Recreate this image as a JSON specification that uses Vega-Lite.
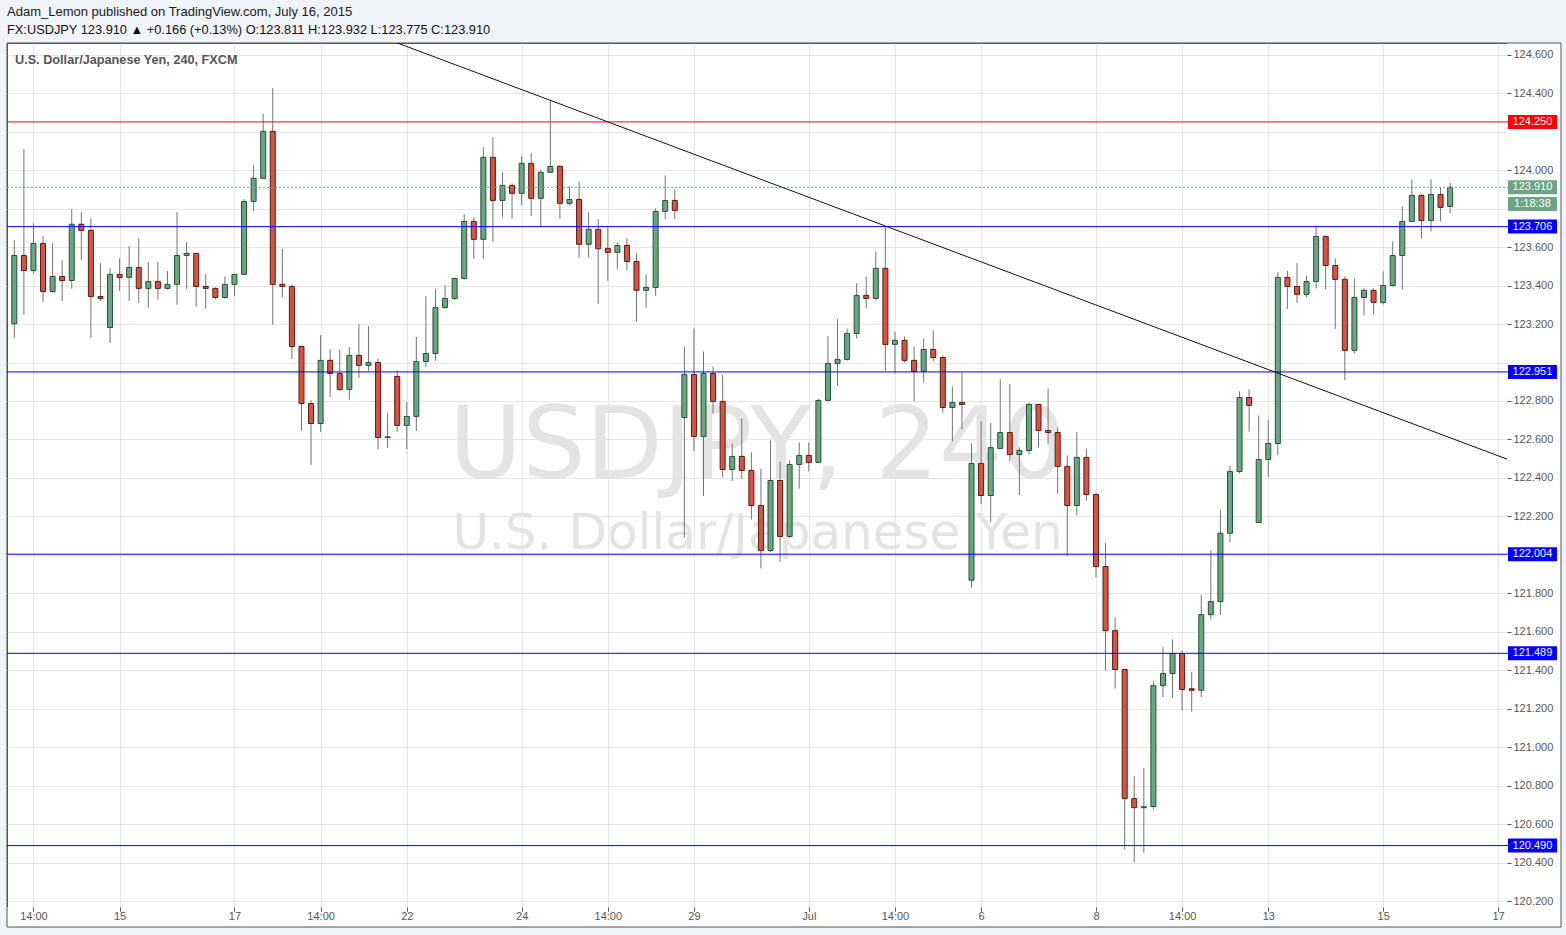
{
  "$schema": "https://vega.github.io/schema/vega-lite/v6.json",
  "width": 1500,
  "height": 864,
  "autosize": {"type": "none"},
  "padding": {"left": 7, "top": 43, "right": 59, "bottom": 28},
  "background": "#f0f3f7",
  "title": {
    "text": "Adam_Lemon published on TradingView.com, July 16, 2015",
    "subtitle": "FX:USDJPY 123.910 ▲ +0.166 (+0.13%) O:123.811 H:123.932 L:123.775 C:123.910",
    "anchor": "start",
    "frame": "group",
    "font": "Liberation Sans",
    "fontSize": 13,
    "fontWeight": "normal",
    "color": "#1a1a1a",
    "subtitleFont": "Liberation Sans",
    "subtitleFontSize": 12.8,
    "subtitleColor": "#111111",
    "subtitlePadding": 5,
    "offset": 6
  },
  "config": {
    "view": {"stroke": "#555555", "strokeWidth": 1, "fill": "white"},
    "text": {"font": "Liberation Sans"}
  },
  "resolve": {"axis": {"x": "independent", "y": "independent"}},
  "datasets": {
    "candles": [
      {"n": -1, "o": 123.01, "h": 123.22, "l": 122.98, "c": 123.2},
      {"n": 0, "o": 123.201, "h": 123.636, "l": 123.128, "c": 123.556},
      {"n": 1, "o": 123.556, "h": 124.109, "l": 123.248, "c": 123.478},
      {"n": 2, "o": 123.478, "h": 123.723, "l": 123.461, "c": 123.619},
      {"n": 3, "o": 123.619, "h": 123.657, "l": 123.315, "c": 123.369},
      {"n": 4, "o": 123.369, "h": 123.62, "l": 123.36, "c": 123.447},
      {"n": 5, "o": 123.447, "h": 123.532, "l": 123.32, "c": 123.426},
      {"n": 6, "o": 123.426, "h": 123.797, "l": 123.383, "c": 123.718},
      {"n": 7, "o": 123.718, "h": 123.781, "l": 123.532, "c": 123.686},
      {"n": 8, "o": 123.686, "h": 123.75, "l": 123.128, "c": 123.343},
      {"n": 9, "o": 123.343, "h": 123.516, "l": 123.32, "c": 123.333},
      {"n": 10, "o": 123.182, "h": 123.49, "l": 123.102, "c": 123.458},
      {"n": 11, "o": 123.458, "h": 123.542, "l": 123.372, "c": 123.442},
      {"n": 12, "o": 123.442, "h": 123.605, "l": 123.32, "c": 123.494},
      {"n": 13, "o": 123.494, "h": 123.646, "l": 123.31, "c": 123.385},
      {"n": 14, "o": 123.385, "h": 123.522, "l": 123.284, "c": 123.421},
      {"n": 15, "o": 123.421, "h": 123.522, "l": 123.326, "c": 123.385},
      {"n": 16, "o": 123.385, "h": 123.475, "l": 123.378, "c": 123.406},
      {"n": 17, "o": 123.406, "h": 123.781, "l": 123.3, "c": 123.556},
      {"n": 18, "o": 123.556, "h": 123.626, "l": 123.383, "c": 123.567},
      {"n": 19, "o": 123.567, "h": 123.57, "l": 123.289, "c": 123.395},
      {"n": 20, "o": 123.395, "h": 123.459, "l": 123.279, "c": 123.385},
      {"n": 21, "o": 123.385, "h": 123.39, "l": 123.326, "c": 123.338},
      {"n": 22, "o": 123.338, "h": 123.447, "l": 123.331, "c": 123.406},
      {"n": 23, "o": 123.406, "h": 123.46, "l": 123.346, "c": 123.458},
      {"n": 24, "o": 123.458, "h": 123.849, "l": 123.455, "c": 123.837},
      {"n": 25, "o": 123.837, "h": 124.024, "l": 123.788, "c": 123.957},
      {"n": 26, "o": 123.957, "h": 124.291, "l": 123.955, "c": 124.201},
      {"n": 27, "o": 124.201, "h": 124.426, "l": 123.196, "c": 123.406},
      {"n": 28, "o": 123.406, "h": 123.589, "l": 123.336, "c": 123.395},
      {"n": 29, "o": 123.395, "h": 123.406, "l": 123.019, "c": 123.083},
      {"n": 30, "o": 123.083, "h": 123.088, "l": 122.645, "c": 122.787},
      {"n": 31, "o": 122.787, "h": 122.804, "l": 122.468, "c": 122.683},
      {"n": 32, "o": 122.683, "h": 123.142, "l": 122.64, "c": 123.011},
      {"n": 33, "o": 123.011, "h": 123.069, "l": 122.821, "c": 122.943},
      {"n": 34, "o": 122.943, "h": 123.069, "l": 122.853, "c": 122.86},
      {"n": 35, "o": 122.86, "h": 123.08, "l": 122.806, "c": 123.037},
      {"n": 36, "o": 123.037, "h": 123.199, "l": 122.92, "c": 122.985},
      {"n": 37, "o": 122.985, "h": 123.189, "l": 122.957, "c": 123.0},
      {"n": 38, "o": 123.0, "h": 123.021, "l": 122.548, "c": 122.61},
      {"n": 39, "o": 122.61, "h": 122.737, "l": 122.556, "c": 122.614},
      {"n": 40, "o": 122.928, "h": 122.959, "l": 122.64, "c": 122.673},
      {"n": 41, "o": 122.673, "h": 122.794, "l": 122.548, "c": 122.72},
      {"n": 42, "o": 122.72, "h": 123.132, "l": 122.645, "c": 123.005},
      {"n": 43, "o": 123.005, "h": 123.345, "l": 122.977, "c": 123.047},
      {"n": 44, "o": 123.047, "h": 123.381, "l": 123.009, "c": 123.286},
      {"n": 45, "o": 123.286, "h": 123.402, "l": 123.279, "c": 123.333},
      {"n": 46, "o": 123.333, "h": 123.44, "l": 123.324, "c": 123.437},
      {"n": 47, "o": 123.437, "h": 123.771, "l": 123.43, "c": 123.733},
      {"n": 48, "o": 123.733, "h": 123.755, "l": 123.539, "c": 123.64},
      {"n": 49, "o": 123.64, "h": 124.118, "l": 123.539, "c": 124.066},
      {"n": 50, "o": 124.066, "h": 124.17, "l": 123.627, "c": 123.842},
      {"n": 51, "o": 123.842, "h": 123.988, "l": 123.754, "c": 123.92},
      {"n": 52, "o": 123.92, "h": 123.931, "l": 123.747, "c": 123.879},
      {"n": 53, "o": 123.879, "h": 124.071, "l": 123.819, "c": 124.035},
      {"n": 54, "o": 124.035, "h": 124.087, "l": 123.762, "c": 123.853},
      {"n": 55, "o": 123.853, "h": 123.998, "l": 123.703, "c": 123.988},
      {"n": 56, "o": 123.988, "h": 124.362, "l": 123.985, "c": 124.019},
      {"n": 57, "o": 124.019, "h": 124.025, "l": 123.747, "c": 123.827},
      {"n": 58, "o": 123.827, "h": 123.915, "l": 123.814, "c": 123.847},
      {"n": 59, "o": 123.847, "h": 123.941, "l": 123.544, "c": 123.614},
      {"n": 60, "o": 123.614, "h": 123.78, "l": 123.544, "c": 123.692},
      {"n": 61, "o": 123.692, "h": 123.745, "l": 123.305, "c": 123.591},
      {"n": 62, "o": 123.593, "h": 123.702, "l": 123.424, "c": 123.572},
      {"n": 63, "o": 123.572, "h": 123.624, "l": 123.484, "c": 123.608},
      {"n": 64, "o": 123.608, "h": 123.645, "l": 123.478, "c": 123.525},
      {"n": 65, "o": 123.525, "h": 123.567, "l": 123.211, "c": 123.375},
      {"n": 66, "o": 123.375, "h": 123.458, "l": 123.284, "c": 123.39},
      {"n": 67, "o": 123.39, "h": 123.801, "l": 123.346, "c": 123.785},
      {"n": 68, "o": 123.785, "h": 123.972, "l": 123.744, "c": 123.842},
      {"n": 69, "o": 123.842, "h": 123.899, "l": 123.744, "c": 123.79},
      {"n": 70, "o": 122.714, "h": 123.083, "l": 122.089, "c": 122.938},
      {"n": 71, "o": 122.938, "h": 123.177, "l": 122.539, "c": 122.616},
      {"n": 72, "o": 122.616, "h": 123.057, "l": 122.307, "c": 122.943},
      {"n": 73, "o": 122.943, "h": 122.979, "l": 122.733, "c": 122.798},
      {"n": 74, "o": 122.798, "h": 122.938, "l": 122.406, "c": 122.444},
      {"n": 75, "o": 122.444, "h": 122.579, "l": 122.385, "c": 122.512},
      {"n": 76, "o": 122.512, "h": 122.709, "l": 122.395, "c": 122.439},
      {"n": 77, "o": 122.439, "h": 122.533, "l": 122.184, "c": 122.257},
      {"n": 78, "o": 122.257, "h": 122.449, "l": 121.93, "c": 122.023},
      {"n": 79, "o": 122.023, "h": 122.595, "l": 122.016, "c": 122.387},
      {"n": 80, "o": 122.387, "h": 122.486, "l": 121.964, "c": 122.096},
      {"n": 81, "o": 122.096, "h": 122.491, "l": 122.086, "c": 122.47},
      {"n": 82, "o": 122.47, "h": 122.585, "l": 122.345, "c": 122.517},
      {"n": 83, "o": 122.517, "h": 122.585, "l": 122.434, "c": 122.481},
      {"n": 84, "o": 122.481, "h": 122.81, "l": 122.478, "c": 122.803},
      {"n": 85, "o": 122.803, "h": 123.137, "l": 122.798, "c": 122.995},
      {"n": 86, "o": 122.995, "h": 123.225, "l": 122.879, "c": 123.016},
      {"n": 87, "o": 123.016, "h": 123.177, "l": 123.01, "c": 123.151},
      {"n": 88, "o": 123.151, "h": 123.411, "l": 123.125, "c": 123.349},
      {"n": 89, "o": 123.349, "h": 123.447, "l": 123.281, "c": 123.333},
      {"n": 90, "o": 123.333, "h": 123.577, "l": 123.323, "c": 123.489},
      {"n": 91, "o": 123.489, "h": 123.707, "l": 122.957, "c": 123.094},
      {"n": 92, "o": 123.094, "h": 123.161, "l": 122.943, "c": 123.115},
      {"n": 93, "o": 123.115, "h": 123.135, "l": 123.0, "c": 123.011},
      {"n": 94, "o": 123.011, "h": 123.083, "l": 122.798, "c": 122.954},
      {"n": 95, "o": 122.954, "h": 123.125, "l": 122.896, "c": 123.068},
      {"n": 96, "o": 123.068, "h": 123.167, "l": 123.005, "c": 123.026},
      {"n": 97, "o": 123.026, "h": 123.037, "l": 122.74, "c": 122.766},
      {"n": 98, "o": 122.766, "h": 122.876, "l": 122.59, "c": 122.792},
      {"n": 99, "o": 122.792, "h": 122.948, "l": 122.652, "c": 122.782},
      {"n": 100, "o": 121.869, "h": 122.579, "l": 121.831, "c": 122.475},
      {"n": 101, "o": 122.475, "h": 122.695, "l": 122.265, "c": 122.309},
      {"n": 102, "o": 122.309, "h": 122.685, "l": 122.172, "c": 122.558},
      {"n": 103, "o": 122.553, "h": 122.913, "l": 122.55, "c": 122.636},
      {"n": 104, "o": 122.636, "h": 122.888, "l": 122.486, "c": 122.522},
      {"n": 105, "o": 122.522, "h": 122.558, "l": 122.312, "c": 122.543},
      {"n": 106, "o": 122.543, "h": 122.792, "l": 122.522, "c": 122.782},
      {"n": 107, "o": 122.782, "h": 122.785, "l": 122.558, "c": 122.647},
      {"n": 108, "o": 122.647, "h": 122.865, "l": 122.574, "c": 122.636},
      {"n": 109, "o": 122.636, "h": 122.662, "l": 122.319, "c": 122.46},
      {"n": 110, "o": 122.46, "h": 122.517, "l": 121.995, "c": 122.257},
      {"n": 111, "o": 122.257, "h": 122.638, "l": 122.205, "c": 122.507},
      {"n": 112, "o": 122.507, "h": 122.553, "l": 122.283, "c": 122.314},
      {"n": 113, "o": 122.314, "h": 122.323, "l": 121.883, "c": 121.94},
      {"n": 114, "o": 121.94, "h": 122.061, "l": 121.399, "c": 121.607},
      {"n": 115, "o": 121.607, "h": 121.676, "l": 121.306, "c": 121.405},
      {"n": 116, "o": 121.405, "h": 121.41, "l": 120.469, "c": 120.734},
      {"n": 117, "o": 120.734, "h": 120.85, "l": 120.402, "c": 120.687},
      {"n": 118, "o": 120.687, "h": 120.893, "l": 120.453, "c": 120.692},
      {"n": 119, "o": 120.693, "h": 121.344, "l": 120.677, "c": 121.321},
      {"n": 120, "o": 121.321, "h": 121.521, "l": 121.262, "c": 121.384},
      {"n": 121, "o": 121.384, "h": 121.561, "l": 121.257, "c": 121.488},
      {"n": 122, "o": 121.488, "h": 121.503, "l": 121.192, "c": 121.301},
      {"n": 123, "o": 121.305, "h": 121.391, "l": 121.186, "c": 121.297},
      {"n": 124, "o": 121.297, "h": 121.791, "l": 121.262, "c": 121.69},
      {"n": 125, "o": 121.69, "h": 122.025, "l": 121.665, "c": 121.758},
      {"n": 126, "o": 121.758, "h": 122.233, "l": 121.688, "c": 122.113},
      {"n": 127, "o": 122.113, "h": 122.465, "l": 122.065, "c": 122.434},
      {"n": 128, "o": 122.434, "h": 122.85, "l": 122.423, "c": 122.818},
      {"n": 129, "o": 122.818, "h": 122.861, "l": 122.64, "c": 122.777},
      {"n": 130, "o": 122.169, "h": 122.725, "l": 122.165, "c": 122.496},
      {"n": 131, "o": 122.496, "h": 122.699, "l": 122.403, "c": 122.579},
      {"n": 132, "o": 122.579, "h": 123.47, "l": 122.518, "c": 123.442},
      {"n": 133, "o": 123.442, "h": 123.475, "l": 123.279, "c": 123.395},
      {"n": 134, "o": 123.395, "h": 123.516, "l": 123.31, "c": 123.354},
      {"n": 135, "o": 123.354, "h": 123.452, "l": 123.338, "c": 123.421},
      {"n": 136, "o": 123.421, "h": 123.712, "l": 123.385, "c": 123.655},
      {"n": 137, "o": 123.655, "h": 123.66, "l": 123.38, "c": 123.504},
      {"n": 138, "o": 123.504, "h": 123.541, "l": 123.175, "c": 123.432},
      {"n": 139, "o": 123.432, "h": 123.447, "l": 122.907, "c": 123.063},
      {"n": 140, "o": 123.063, "h": 123.437, "l": 123.047, "c": 123.338},
      {"n": 141, "o": 123.338, "h": 123.385, "l": 123.245, "c": 123.375},
      {"n": 142, "o": 123.375, "h": 123.385, "l": 123.25, "c": 123.312},
      {"n": 143, "o": 123.312, "h": 123.473, "l": 123.302, "c": 123.4},
      {"n": 144, "o": 123.4, "h": 123.629, "l": 123.395, "c": 123.556},
      {"n": 145, "o": 123.556, "h": 123.811, "l": 123.38, "c": 123.733},
      {"n": 146, "o": 123.733, "h": 123.951, "l": 123.73, "c": 123.868},
      {"n": 147, "o": 123.868, "h": 123.875, "l": 123.645, "c": 123.738},
      {"n": 148, "o": 123.738, "h": 123.951, "l": 123.681, "c": 123.873},
      {"n": 149, "o": 123.873, "h": 123.91, "l": 123.733, "c": 123.806},
      {"n": 150, "o": 123.811, "h": 123.932, "l": 123.775, "c": 123.91}
    ],
    "levels": [
      {"level": 124.25, "kind": "res"},
      {"level": 123.706, "kind": "sup"},
      {"level": 122.951, "kind": "sup"},
      {"level": 122.004, "kind": "sup"},
      {"level": 121.489, "kind": "sup"},
      {"level": 120.49, "kind": "sup"}
    ],
    "last": [{"level": 123.91}],
    "tags": [
      {"level": 124.25, "label": "124.250", "kind": "res"},
      {"level": 123.91, "label": "123.910", "kind": "last"},
      {"level": 123.823, "label": "1:18:38", "kind": "last"},
      {"level": 123.706, "label": "123.706", "kind": "sup"},
      {"level": 122.951, "label": "122.951", "kind": "sup"},
      {"level": 122.004, "label": "122.004", "kind": "sup"},
      {"level": 121.489, "label": "121.489", "kind": "sup"},
      {"level": 120.49, "label": "120.490", "kind": "sup"}
    ],
    "trend": [
      {"n": 30, "p": 124.847},
      {"n": 156, "p": 122.497}
    ]
  },
  "layer": [
    {
      "data": {"values": [{}]},
      "mark": {"type": "rect", "fill": "white", "clip": false},
      "encoding": {
        "x": {"datum": 155.94, "type": "quantitative", "scale": {"domain": [-0.763, 155.94], "nice": false, "zero": false, "padding": 0},
          "axis": {"orient": "bottom", "title": null, "values": [2, 11, 23, 32, 41, 53, 62, 71, 83, 92, 101, 113, 122, 131, 143, 155], "grid": true, "gridColor": "#e6e6e6", "gridWidth": 1, "labels": false, "ticks": false, "domain": false, "zindex": 0}},
        "x2": {"datum": 161.58},
        "y": {"datum": 124.66, "type": "quantitative", "scale": {"domain": [120.171, 124.66], "nice": false, "zero": false},
          "axis": {"orient": "right", "title": null, "values": [120.2, 120.4, 120.6, 120.8, 121.0, 121.2, 121.4, 121.6, 121.8, 122.0, 122.2, 122.4, 122.6, 122.8, 123.0, 123.2, 123.4, 123.6, 123.8, 124.0, 124.2, 124.4, 124.6], "grid": true, "gridColor": "#e6e6e6", "gridWidth": 1, "labels": false, "ticks": false, "domain": false, "zindex": 0}},
        "y2": {"datum": 120.067}
      }
    },
    {
      "data": {"values": [{}]},
      "mark": {"type": "rect", "fill": "white", "clip": false},
      "encoding": {
        "x": {"datum": -0.763, "type": "quantitative", "scale": {"domain": [-0.763, 155.94], "nice": false, "zero": false, "padding": 0}, "axis": null},
        "x2": {"datum": 161.58},
        "y": {"datum": 120.171, "type": "quantitative", "scale": {"domain": [120.171, 124.66], "nice": false, "zero": false}, "axis": null},
        "y2": {"datum": 120.067}
      }
    },
    {
      "data": {"values": [{}]},
      "mark": {"type": "rect", "fill": "white", "fillOpacity": 0, "stroke": "#555555", "strokeWidth": 1, "clip": false},
      "encoding": {
        "x": {"datum": -0.763, "type": "quantitative", "scale": {"domain": [-0.763, 155.94], "nice": false, "zero": false, "padding": 0}, "axis": null},
        "x2": {"datum": 161.58},
        "y": {"datum": 124.66, "type": "quantitative", "scale": {"domain": [120.171, 124.66], "nice": false, "zero": false}, "axis": null},
        "y2": {"datum": 120.067}
      }
    },
    {
      "data": {"values": [{"t": "USDJPY, 240"}]},
      "mark": {"type": "text", "font": "DejaVu Sans", "fontSize": 100, "color": "#e4e4e4", "align": "center", "baseline": "alphabetic"},
      "encoding": {
        "x": {"datum": 77.64, "type": "quantitative", "scale": {"domain": [-0.763, 155.94], "nice": false, "zero": false, "padding": 0}, "axis": null},
        "y": {"datum": 122.399, "type": "quantitative", "scale": {"domain": [120.171, 124.66], "nice": false, "zero": false}, "axis": null},
        "text": {"field": "t"}
      }
    },
    {
      "data": {"values": [{"t": "U.S. Dollar/Japanese Yen"}]},
      "mark": {"type": "text", "font": "DejaVu Sans", "fontSize": 50, "color": "#e4e4e4", "align": "center", "baseline": "alphabetic"},
      "encoding": {
        "x": {"datum": 77.64, "type": "quantitative", "scale": {"domain": [-0.763, 155.94], "nice": false, "zero": false, "padding": 0}, "axis": null},
        "y": {"datum": 122.03, "type": "quantitative", "scale": {"domain": [120.171, 124.66], "nice": false, "zero": false}, "axis": null},
        "text": {"field": "t"}
      }
    },
    {
      "data": {"values": [{"t": "U.S. Dollar/Japanese Yen, 240, FXCM"}]},
      "mark": {"type": "text", "font": "Liberation Sans", "fontSize": 12.7, "fontWeight": "bold", "color": "#555555", "align": "left", "baseline": "middle"},
      "encoding": {
        "x": {"datum": 0.07, "type": "quantitative", "scale": {"domain": [-0.763, 155.94], "nice": false, "zero": false, "padding": 0}, "axis": null},
        "y": {"datum": 124.571, "type": "quantitative", "scale": {"domain": [120.171, 124.66], "nice": false, "zero": false}, "axis": null},
        "text": {"field": "t"}
      }
    },
    {
      "data": {"name": "candles"},
      "mark": {"type": "rule", "color": "#737375", "strokeWidth": 1, "clip": true},
      "encoding": {
        "x": {
          "field": "n", "type": "quantitative",
          "scale": {"domain": [-0.763, 155.94], "nice": false, "zero": false, "padding": 0},
          "axis": {
            "title": null,
            "orient": "bottom",
            "values": [2, 11, 23, 32, 41, 53, 62, 71, 83, 92, 101, 113, 122, 131, 143, 155],
            "labelExpr": "['14:00','15','17','14:00','22','24','14:00','29','Jul','14:00','6','8','14:00','13','15','17'][indexof([2,11,23,32,41,53,62,71,83,92,101,113,122,131,143,155], datum.value)]",
            "grid": false,
            "domain": false,
            "ticks": true, "tickSize": 4, "tickColor": "#555555",
            "labelFont": "Liberation Sans", "labelFontSize": 11, "labelColor": "#555555",
            "labelPadding": -1, "labelFlush": false, "labelOverlap": false,
            "zindex": 1
          }
        },
        "y": {
          "field": "l", "type": "quantitative",
          "scale": {"domain": [120.171, 124.66], "nice": false, "zero": false},
          "axis": {
            "title": null,
            "orient": "right",
            "values": [120.2, 120.4, 120.6, 120.8, 121.0, 121.2, 121.4, 121.6, 121.8, 122.2, 122.4, 122.6, 122.8, 123.2, 123.4, 123.6, 124.0, 124.4, 124.6],
            "format": ".3f",
            "grid": false,
            "domain": false,
            "ticks": true, "tickSize": 4, "tickColor": "#555555",
            "labelFont": "Liberation Sans", "labelFontSize": 11, "labelColor": "#555555",
            "labelPadding": 2, "labelFlush": false, "labelOverlap": false,
            "zindex": 1
          }
        },
        "y2": {"field": "h"}
      }
    },
    {
      "data": {"name": "candles"},
      "mark": {"type": "bar", "width": 5, "strokeWidth": 1, "clip": true},
      "encoding": {
        "x": {"field": "n", "type": "quantitative", "scale": {"domain": [-0.763, 155.94], "nice": false, "zero": false, "padding": 0}, "axis": null},
        "y": {"field": "o", "type": "quantitative", "scale": {"domain": [120.171, 124.66], "nice": false, "zero": false}, "axis": null},
        "y2": {"field": "c"},
        "fill": {"condition": {"test": "datum.c >= datum.o", "value": "#6ba583"}, "value": "#d75442"},
        "stroke": {"condition": {"test": "datum.c >= datum.o", "value": "#225437"}, "value": "#5b1a13"}
      }
    },
    {
      "data": {"name": "levels"},
      "mark": {"type": "rule", "strokeWidth": 1, "clip": false},
      "encoding": {
        "x": {"datum": -0.763, "type": "quantitative", "scale": {"domain": [-0.763, 155.94], "nice": false, "zero": false, "padding": 0}, "axis": null},
        "x2": {"datum": 156.04},
        "y": {"field": "level", "type": "quantitative", "scale": {"domain": [120.171, 124.66], "nice": false, "zero": false}, "axis": null},
        "color": {"condition": {"test": "datum.kind == 'res'", "value": "#ff0000"}, "value": "#0000ff"}
      }
    },
    {
      "data": {"name": "last"},
      "mark": {"type": "rule", "strokeWidth": 1, "strokeDash": [2, 2], "color": "#6ba583", "clip": false},
      "encoding": {
        "x": {"datum": -0.763, "type": "quantitative", "scale": {"domain": [-0.763, 155.94], "nice": false, "zero": false, "padding": 0}, "axis": null},
        "x2": {"datum": 156.04},
        "y": {"field": "level", "type": "quantitative", "scale": {"domain": [120.171, 124.66], "nice": false, "zero": false}, "axis": null}
      }
    },
    {
      "data": {"name": "trend"},
      "mark": {"type": "line", "color": "#111111", "strokeWidth": 1, "clip": true},
      "encoding": {
        "x": {"field": "n", "type": "quantitative", "scale": {"domain": [-0.763, 155.94], "nice": false, "zero": false, "padding": 0}, "axis": null},
        "y": {"field": "p", "type": "quantitative", "scale": {"domain": [120.171, 124.66], "nice": false, "zero": false}, "axis": null}
      }
    },
    {
      "data": {"name": "tags"},
      "mark": {"type": "rule", "strokeWidth": 14, "strokeCap": "butt", "clip": false},
      "encoding": {
        "x": {"datum": 156.04, "type": "quantitative", "scale": {"domain": [-0.763, 155.94], "nice": false, "zero": false, "padding": 0}, "axis": null},
        "x2": {"datum": 161.16},
        "y": {"field": "level", "type": "quantitative", "scale": {"domain": [120.171, 124.66], "nice": false, "zero": false}, "axis": null},
        "color": {"condition": [{"test": "datum.kind == 'res'", "value": "#ff0000"}, {"test": "datum.kind == 'last'", "value": "#6ba583"}], "value": "#0000ff"}
      }
    },
    {
      "data": {"name": "tags"},
      "mark": {"type": "text", "font": "Liberation Sans", "fontSize": 11, "color": "white", "align": "center", "baseline": "middle", "clip": false},
      "encoding": {
        "x": {"datum": 158.6, "type": "quantitative", "scale": {"domain": [-0.763, 155.94], "nice": false, "zero": false, "padding": 0}, "axis": null},
        "y": {"field": "level", "type": "quantitative", "scale": {"domain": [120.171, 124.66], "nice": false, "zero": false}, "axis": null},
        "text": {"field": "label"}
      }
    }
  ]
}
